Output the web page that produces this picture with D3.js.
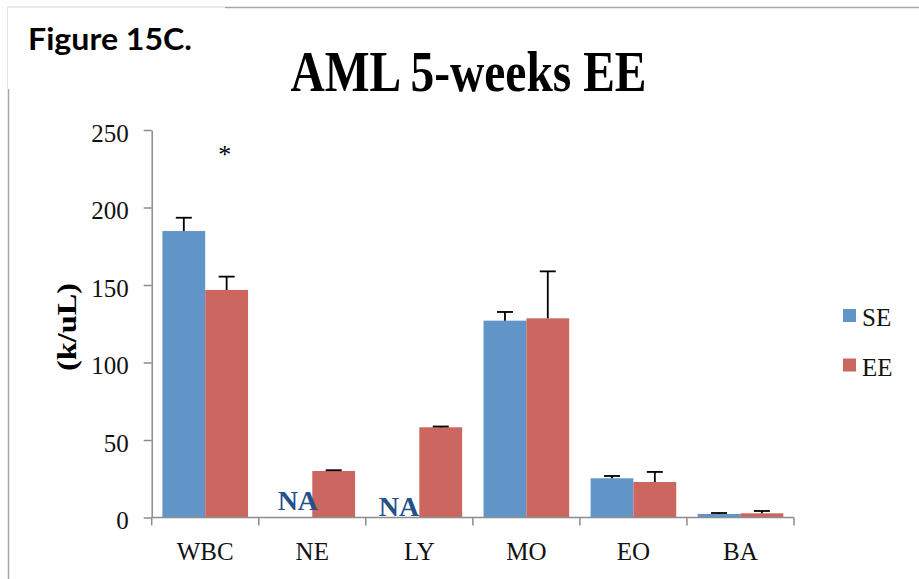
<!DOCTYPE html>
<html>
<head>
<meta charset="utf-8">
<script src="https://cdn.jsdelivr.net/npm/d3@7"></script>
<style>
  html, body { margin: 0; padding: 0; background: #fff; }
</style>
</head>
<body>
<script>
// data
const categories = ['WBC', 'NE', 'LY', 'MO', 'EO', 'BA']
const seriesNames = ['SE', 'EE']
const seMeans = [184.8, 0, 0, 127, 25.3, 2.3]
const seErrors = [8.6, 0, 0, 5.6, 1.5, 0.6]
const eeMeans = [146.8, 30, 58.2, 128.5, 22.9, 2.7]
const eeErrors = [8.6, 0.5, 0.5, 30.3, 6.5, 1.5]
const yTicks = [0, 50, 100, 150, 200, 250]

const data = categories.map((c, i) => ({
  category: c,
  values: [
    { series: 'SE', mean: seMeans[i], err: seErrors[i] },
    { series: 'EE', mean: eeMeans[i], err: eeErrors[i] }
  ]
}))

draw({ data })

function draw({ data }) {
  const outerWidth = 919
  const outerHeight = 579

  // colors
  const blue = '#6194c7'
  const red = '#cc6660'
  const axisGray = '#8c8c8c'
  const frameGray = '#a6a6a6'
  const naBlue = '#24508c'

  const serif = '"Liberation Serif", "Times New Roman", serif'

  const svg = d3
    .select('body')
    .append('svg')
    .attr('width', outerWidth)
    .attr('height', outerHeight)
    .style('display', 'block')

  // frame of the chart (left + top edges only are visible)
  svg.append('line')
    .attr('x1', 225).attr('x2', outerWidth).attr('y1', 7.5).attr('y2', 7.5)
    .style('stroke', frameGray).style('stroke-width', 1.5)
  svg.append('line')
    .attr('x1', 8.5).attr('x2', 8.5).attr('y1', 89).attr('y2', outerHeight)
    .style('stroke', frameGray).style('stroke-width', 1.5)
  // light edges of the figure label box
  svg.append('line')
    .attr('x1', 7.5).attr('x2', 225).attr('y1', 7).attr('y2', 7)
    .style('stroke', '#d4d4d4').style('stroke-width', 1)
  svg.append('line')
    .attr('x1', 7.5).attr('x2', 7.5).attr('y1', 7).attr('y2', 89)
    .style('stroke', '#e4e4e4').style('stroke-width', 1)

  svg.append('text')
    .attr('x', 28)
    .attr('y', 50)
    .attr('textLength', 164)
    .attr('lengthAdjust', 'spacingAndGlyphs')
    .style('font-family', 'Lato, "Open Sans", sans-serif')
    .style('font-weight', 'bold')
    .style('font-size', '30px')
    .style('fill', '#000')
    .text('Figure 15C.')

  // title
  svg.append('text')
    .attr('x', 290.5)
    .attr('y', 90.5)
    .attr('textLength', 356)
    .attr('lengthAdjust', 'spacingAndGlyphs')
    .style('font-family', serif)
    .style('font-weight', 'bold')
    .style('font-size', '56px')
    .text('AML 5-weeks EE')

  const plot = { left: 151.7, right: 794, top: 130, bottom: 517.5 }

  const xScale = d3
    .scaleBand()
    .domain(categories)
    .range([plot.left, plot.right])
    .paddingInner(0.2)
    .paddingOuter(0.1)

  const xSub = d3
    .scaleBand()
    .domain(seriesNames)
    .range([0, xScale.bandwidth()])

  const yScale = d3
    .scaleLinear()
    .domain([0, 250])
    .range([plot.bottom, plot.top])

  const color = d3.scaleOrdinal().domain(seriesNames).range([blue, red])

  // y axis
  const yAxis = d3.axisLeft(yScale)
    .tickValues(yTicks)
    .tickSize(8)
    .tickPadding(15)
    .tickSizeOuter(0)

  const yAxisG = svg.append('g')
    .attr('transform', `translate(${plot.left},0)`)
    .call(yAxis)
  yAxisG.select('.domain').style('stroke', axisGray).style('stroke-width', 1.5)
  yAxisG.selectAll('.tick line').style('stroke', axisGray).style('stroke-width', 1.5)
  yAxisG.selectAll('.tick text')
    .style('font-family', serif)
    .style('font-size', '25px')
    .style('fill', '#111')
    .attr('dy', '0.45em')

  // y axis label
  svg.append('text')
    .attr('transform', 'translate(76,327) rotate(-90)')
    .attr('text-anchor', 'middle')
    .attr('textLength', 88)
    .attr('lengthAdjust', 'spacingAndGlyphs')
    .style('font-family', serif)
    .style('font-weight', 'bold')
    .style('font-size', '28px')
    .text('(k/uL)')

  // bars
  const groups = svg.selectAll('.group')
    .data(data)
    .enter()
    .append('g')
    .attr('class', 'group')
    .attr('transform', d => `translate(${xScale(d.category)},0)`)

  groups.selectAll('.bar')
    .data(d => d.values)
    .enter()
    .append('rect')
    .attr('class', 'bar')
    .attr('x', d => xSub(d.series))
    .attr('width', xSub.bandwidth())
    .attr('y', d => yScale(d.mean))
    .attr('height', d => yScale(0) - yScale(d.mean))
    .style('fill', d => color(d.series))
    .style('stroke', d => (d.mean > 0 ? 'none' : '#c8c8c8'))

  // error bars (upper only)
  const errs = groups.selectAll('.err')
    .data(d => d.values.filter(v => v.mean > 0))
    .enter()
    .append('g')
    .attr('class', 'err')
  const capHalf = 8
  errs.append('line')
    .attr('x1', d => xSub(d.series) + xSub.bandwidth() / 2)
    .attr('x2', d => xSub(d.series) + xSub.bandwidth() / 2)
    .attr('y1', d => yScale(d.mean))
    .attr('y2', d => yScale(d.mean + d.err))
    .style('stroke', '#000')
    .style('stroke-width', 1.8)
  errs.append('line')
    .attr('x1', d => xSub(d.series) + xSub.bandwidth() / 2 - capHalf)
    .attr('x2', d => xSub(d.series) + xSub.bandwidth() / 2 + capHalf)
    .attr('y1', d => yScale(d.mean + d.err))
    .attr('y2', d => yScale(d.mean + d.err))
    .style('stroke', '#000')
    .style('stroke-width', 1.8)

  // x axis with boundary ticks
  const xAxisG = svg.append('g').attr('class', 'x axis')
  xAxisG.append('line')
    .attr('x1', plot.left).attr('x2', plot.right)
    .attr('y1', yScale(0)).attr('y2', yScale(0))
    .style('stroke', axisGray).style('stroke-width', 1.5)
  xAxisG.selectAll('.xtick')
    .data(d3.range(categories.length + 1))
    .enter()
    .append('line')
    .attr('class', 'xtick')
    .attr('x1', i => plot.left + i * xScale.step())
    .attr('x2', i => plot.left + i * xScale.step())
    .attr('y1', yScale(0))
    .attr('y2', yScale(0) + 8)
    .style('stroke', axisGray).style('stroke-width', 1.5)
  xAxisG.selectAll('.xlabel')
    .data(categories)
    .enter()
    .append('text')
    .attr('class', 'xlabel')
    .attr('x', d => xScale(d) + xScale.bandwidth() / 2)
    .attr('y', yScale(0) + 42)
    .attr('text-anchor', 'middle')
    .style('font-family', serif)
    .style('font-size', '25px')
    .style('fill', '#111')
    .text(d => d)

  // NA notes for missing SE values
  const naNotes = [
    { category: 'NE', dx: 7, dy: -8 },
    { category: 'LY', dx: 1, dy: -2 }
  ]
  svg.selectAll('.na')
    .data(naNotes)
    .enter()
    .append('text')
    .attr('class', 'na')
    .attr('x', d => xScale(d.category) + xSub('SE') + xSub.bandwidth() / 2 + d.dx)
    .attr('y', d => yScale(0) + d.dy)
    .attr('text-anchor', 'middle')
    .style('font-family', serif)
    .style('font-weight', 'bold')
    .style('font-size', '28px')
    .style('fill', naBlue)
    .text('NA')

  // significance star over WBC
  svg.append('text')
    .attr('x', xScale('WBC') + xSub('EE') + xSub.bandwidth() / 2 - 2)
    .attr('y', yScale(250) + 33)
    .attr('text-anchor', 'middle')
    .style('font-family', serif)
    .style('font-size', '26px')
    .text('*')

  // legend
  const legend = svg.selectAll('.legend')
    .data(seriesNames)
    .enter()
    .append('g')
    .attr('class', 'legend')
    .attr('transform', (d, i) => `translate(843,${309 + i * 49.5})`)
  legend.append('rect')
    .attr('width', 13)
    .attr('height', 13)
    .style('fill', d => color(d))
  legend.append('text')
    .attr('x', 19)
    .attr('y', 17)
    .style('font-family', serif)
    .style('font-size', '25px')
    .style('fill', '#111')
    .text(d => d)
}
</script>
</body>
</html>
